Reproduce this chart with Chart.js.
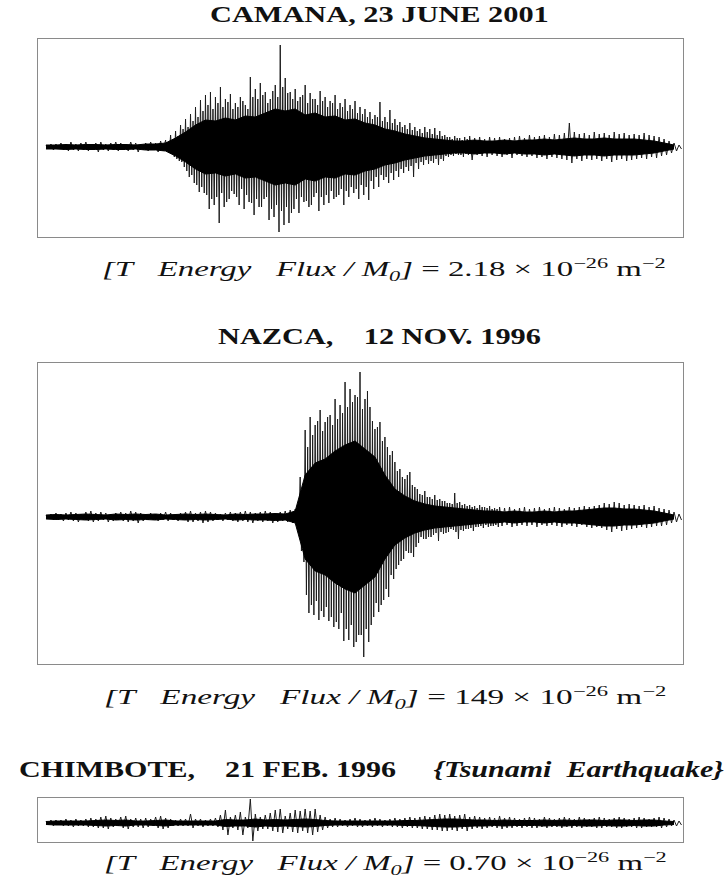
<!DOCTYPE html>
<html>
<head>
<meta charset="utf-8">
<script src="https://cdn.jsdelivr.net/npm/chart.js@4.4.1/dist/chart.umd.min.js"></script>
<style>
html, body { margin: 0; padding: 0; background: #fff; }
body { width: 726px; height: 885px; position: relative; overflow: hidden;
       font-family: "Liberation Serif", "Times New Roman", serif; color: #111; }
.panel { position: absolute; left: 37px; width: 647px; box-sizing: border-box; border: 1px solid #8a8a8a; }
.holder { position: relative; width: 100%; height: 100%; }
.txt { position: absolute; left: 0; top: 0; white-space: nowrap; line-height: 1; transform-origin: 0 0; }
.title { font-size: 23px; font-weight: bold; }
.formula { font-size: 21px; }
sup, sub { font-size: 0.68em; line-height: 0; }
sup { vertical-align: 0.55em; }
sub { vertical-align: -0.32em; }
.probe { display: inline-block; width: 0; height: 0; }
</style>
</head>
<body>

<div class="txt title" id="t1"></div>
<div class="panel" style="top:38px;height:200px"><div class="holder"><canvas id="camana"></canvas></div></div>
<div class="txt formula" id="f1"></div>

<div class="txt title" id="t2"></div>
<div class="panel" style="top:362px;height:303px"><div class="holder"><canvas id="nazca"></canvas></div></div>
<div class="txt formula" id="f2"></div>

<div class="txt title" id="t3"></div>
<div class="panel" style="top:797px;height:46px"><div class="holder"><canvas id="chimbote"></canvas></div></div>
<div class="txt formula" id="f3"></div>

<script>
// Trace peaks, one column every ~5 px (up = max, down = min)
const camanaUp = [
  2, 3, 3, 4, 3, 5, 3, 4, 5, 3,
  4, 5, 3, 4, 5, 4, 3, 5, 4, 3,
  4, 5, 4, 6, 7, 12, 16, 22, 28, 33,
  40, 47, 52, 55, 50, 60, 48, 53, 44, 50,
  42, 70, 58, 64, 55, 48, 62, 102, 69, 55,
  58, 50, 62, 54, 48, 56, 50, 46, 52, 44,
  48, 42, 46, 40, 38, 35, 32, 45, 30, 37,
  28, 25, 22, 24, 20, 18, 20, 18, 19, 16,
  12, 10, 11, 9, 10, 11, 9, 10, 8, 10,
  9, 10, 8, 9, 10, 11, 9, 12, 10, 11,
  12, 10, 13, 12, 14, 24, 15, 13, 14, 12,
  15, 13, 14, 12, 15, 13, 14, 12, 13, 12,
  14, 12, 11, 10, 8, 6, 4, 2
];
const camanaDown = [
  -2, -3, -2, -3, -4, -3, -4, -3, -4, -3,
  -5, -3, -4, -3, -4, -3, -4, -3, -5, -3,
  -4, -3, -5, -4, -6, -10, -14, -20, -30, -36,
  -45, -46, -62, -58, -76, -60, -52, -47, -58, -62,
  -55, -68, -60, -52, -73, -70, -85, -78, -76, -62,
  -66, -55, -60, -50, -64, -58, -56, -52, -48, -58,
  -50, -46, -52, -48, -53, -42, -40, -33, -36, -33,
  -30, -26, -24, -30, -22, -18, -17, -16, -18, -14,
  -10, -9, -8, -10, -8, -13, -8, -9, -10, -8,
  -9, -10, -8, -11, -8, -9, -10, -9, -11, -10,
  -12, -10, -11, -12, -13, -16, -12, -14, -12, -13,
  -12, -14, -12, -15, -13, -12, -14, -13, -12, -11,
  -12, -10, -11, -9, -8, -6, -4, -2
];
// second, smaller swing inside each column of the strong part (from column 24)
const camanaInnerStart = 24;
const camanaUp2 = [
  5, 8, 11, 18, 20, 26, 30, 36, 42, 38,
  44, 40, 45, 38, 40, 46, 38, 50, 48, 52,
  44, 56, 50, 60, 54, 48, 46, 52, 44, 48,
  42, 46, 40, 44, 38, 40, 36, 38, 34, 33,
  30, 28, 30, 26, 25, 24, 22, 20, 18, 17,
  16, 14, 15, 13, 12, 11, 10, 8, 9, 7,
  8
];
const camanaDown2 = [
  -4, -7, -12, -15, -24, -28, -38, -40, -48, -52,
  -50, -46, -55, -44, -50, -42, -48, -56, -52, -60,
  -50, -62, -58, -64, -60, -66, -52, -50, -54, -58,
  -46, -50, -48, -44, -50, -42, -44, -40, -42, -38,
  -40, -34, -30, -28, -30, -26, -24, -22, -20, -19,
  -16, -15, -13, -14, -12, -12, -9, -8, -7, -8,
  -7
];
// half thickness of the solid black core, one value every 2 columns
const camanaCore = [
  2, 2, 2.5, 2, 2.5, 2.5, 2, 2.5, 2.5, 2, 3, 3, 4, 9, 15, 22,
  27, 26, 29, 27, 31, 30, 34, 38, 36, 38, 32, 34, 30, 31, 27, 28,
  24, 22, 18, 16, 13, 11, 9, 8, 7, 6, 6, 7, 6, 6, 7, 6,
  7, 7, 8, 7, 8, 9, 8, 8, 9, 8, 8, 8, 7, 6, 4, 2
];

const nazcaUp = [
  2, 3, 4, 3, 4, 5, 4, 3, 5, 6,
  4, 5, 4, 3, 4, 5, 4, 6, 5, 4,
  3, 4, 3, 4, 5, 4, 3, 4, 5, 6,
  4, 5, 6, 5, 4, 3, 4, 5, 4, 5,
  6, 5, 4, 5, 6, 5, 4, 5, 6, 7,
  8, 40, 87, 100, 92, 107, 95, 102, 118, 112,
  135, 128, 122, 145, 118, 110, 88, 95, 80, 62,
  55, 48, 38, 45, 30, 23, 26, 20, 22, 18,
  16, 14, 24, 15, 13, 12, 11, 12, 10, 11,
  9, 10, 9, 10, 8, 9, 10, 8, 9, 10,
  8, 9, 10, 9, 8, 10, 9, 10, 11, 10,
  11, 12, 14, 13, 15, 14, 12, 13, 12, 11,
  12, 10, 11, 9, 8, 7, 5, 3
];
const nazcaDown = [
  -2, -3, -3, -4, -3, -4, -5, -3, -4, -5,
  -4, -3, -5, -4, -3, -4, -5, -4, -6, -4,
  -3, -3, -4, -3, -4, -3, -4, -3, -5, -5,
  -4, -6, -5, -4, -3, -4, -3, -4, -5, -4,
  -5, -6, -4, -5, -4, -6, -5, -4, -5, -6,
  -8, -45, -96, -98, -103, -100, -104, -110, -112, -124,
  -123, -130, -118, -140, -125, -100, -95, -83, -80, -62,
  -48, -42, -36, -40, -26, -22, -20, -18, -24, -17,
  -15, -13, -22, -14, -12, -14, -10, -11, -10, -9,
  -10, -9, -8, -10, -9, -8, -9, -8, -10, -8,
  -9, -8, -9, -10, -8, -9, -10, -8, -10, -11,
  -10, -11, -13, -15, -12, -14, -13, -12, -11, -10,
  -11, -10, -9, -9, -8, -6, -5, -3
];
const nazcaInnerStart = 50;
const nazcaUp2 = [
  6, 30, 70, 82, 96, 86, 100, 92, 98, 104,
  110, 115, 120, 108, 126, 96, 90, 76, 70, 66,
  46, 40, 42, 32, 28, 22, 20, 18, 17, 16,
  14, 13, 14, 12, 11, 10, 9, 10, 9, 8,
  8
];
const nazcaDown2 = [
  -6, -34, -78, -88, -84, -94, -90, -100, -105, -96,
  -112, -108, -125, -118, -112, -108, -86, -88, -72, -58,
  -52, -44, -34, -36, -30, -20, -22, -20, -16, -15,
  -16, -12, -15, -13, -12, -11, -10, -9, -8, -9,
  -8
];
const nazcaCore = [
  2, 2.5, 2, 2.5, 3, 2.5, 2, 3, 2.5, 3, 2.5, 3, 2, 2.5, 3, 2.5,
  3, 2.5, 2, 3, 2.5, 3, 3, 3.5, 3, 6, 42, 54, 58, 66, 72, 76,
  68, 60, 42, 28, 21, 16, 13, 11, 10, 9, 8, 7, 6, 6, 5, 6,
  5, 5, 6, 5, 6, 6, 7, 8, 9, 9, 8, 8, 7, 6, 4, 2
];

const chimboteUp = [
  2, 3, 3, 3, 4, 3, 4, 3, 4, 5,
  4, 6, 7, 5, 4, 6, 7, 4, 5, 4,
  5, 4, 6, 7, 5, 4, 3, 4, 4, 9,
  4, 4, 3, 4, 5, 8, 13, 6, 8, 11,
  6, 24, 9, 6, 8, 10, 13, 14, 7, 10,
  13, 12, 14, 12, 14, 8, 6, 4, 5, 4,
  3, 4, 5, 4, 3, 4, 5, 4, 3, 4,
  5, 4, 5, 6, 5, 6, 7, 6, 8, 9,
  8, 9, 7, 8, 9, 6, 7, 6, 5, 6,
  5, 7, 5, 6, 5, 4, 5, 6, 5, 4,
  6, 5, 4, 5, 6, 5, 4, 6, 5, 4,
  5, 6, 5, 4, 5, 6, 5, 4, 5, 6,
  5, 4, 5, 6, 5, 4, 3, 2
];
const chimboteDown = [
  -2, -3, -2, -3, -3, -4, -3, -3, -4, -4,
  -5, -5, -6, -4, -3, -5, -6, -4, -4, -5,
  -4, -3, -5, -6, -5, -3, -3, -3, -3, -5,
  -3, -4, -3, -3, -4, -7, -12, -5, -7, -12,
  -5, -18, -8, -6, -6, -8, -9, -10, -6, -9,
  -10, -8, -10, -12, -9, -7, -5, -4, -4, -3,
  -4, -3, -4, -4, -3, -4, -3, -4, -3, -4,
  -4, -5, -4, -5, -5, -6, -6, -7, -7, -8,
  -8, -7, -8, -6, -8, -6, -5, -6, -5, -4,
  -5, -6, -5, -5, -4, -5, -4, -5, -5, -4,
  -5, -4, -4, -5, -4, -5, -4, -5, -4, -4,
  -5, -5, -4, -4, -5, -5, -4, -4, -5, -5,
  -4, -4, -4, -5, -4, -3, -3, -2
];
const chimboteCore = [
  1.5, 2, 2, 2, 2, 2.5, 3, 2.5, 3, 2, 2, 2.5, 3, 2, 2, 2,
  2, 2, 3.5, 3, 3, 4, 3, 3.5, 3, 3.5, 4, 3.5, 2.5, 2, 2, 2,
  2, 2, 2, 2, 2.5, 2.5, 3, 3.5, 4, 4, 3.5, 3, 3, 2.5, 3, 2.5,
  2.5, 2.5, 3, 2.5, 3, 2.5, 3, 3, 2.5, 3, 3, 2.5, 3, 3, 2, 1.5
];

const stations = ['CAMANA, 23 JUNE 2001', 'NAZCA,\u00a0\u00a0\u00a0 12 NOV. 1996', 'CHIMBOTE,\u00a0\u00a0\u00a0 21 FEB. 1996'];
const eventNote = '{Tsunami\u00a0\u00a0Earthquake}';
const fluxValues = ['2.18', '149', '0.70'];

const CORE_STEP = 2;

// the wiggle runs through each column's peak and trough (and the inner swing where there is one)
function buildWiggle(up, down, up2, down2, start) {
    const pts = [];
    up.forEach((u, i) => {
        const k = i - start;
        pts.push({ x: i, y: u });
        if (k >= 0 && k < up2.length) {
            pts.push({ x: i + 0.25, y: down2[k] });
            pts.push({ x: i + 0.5, y: up2[k] });
            pts.push({ x: i + 0.75, y: down[i] });
        } else {
            pts.push({ x: i + 0.5, y: down[i] });
        }
    });
    return pts;
}

function drawTrace(id, wiggle, core, count, yMin, yMax) {
    const coreTop = core.map((c, j) => ({ x: j * CORE_STEP, y: c }));
    const coreBot = core.map((c, j) => ({ x: j * CORE_STEP, y: -c }));

    new Chart(document.getElementById(id), {
        type: 'line',
        data: {
            datasets: [
                { data: coreTop, borderColor: '#000', borderWidth: 1,
                  pointRadius: 0, fill: '+1', backgroundColor: '#000', order: 1 },
                { data: coreBot, borderColor: '#000', borderWidth: 1,
                  pointRadius: 0, fill: false, order: 1 },
                { data: wiggle, borderColor: '#1c1c1c', borderWidth: 1,
                  pointRadius: 0, fill: false, order: 2 }
            ]
        },
        options: {
            animation: false,
            responsive: true,
            maintainAspectRatio: false,
            layout: { padding: 0 },
            plugins: { legend: { display: false }, tooltip: { enabled: false } },
            scales: {
                x: { type: 'linear', display: false, min: -1.6, max: count - 0.2 },
                y: { display: false, min: yMin, max: yMax }
            }
        }
    });
}

function formula(v) {
    return '<i>[T&nbsp;&nbsp;&nbsp;Energy&nbsp;&nbsp;&nbsp;Flux / M<sub>0</sub>]</i> = ' + v +
        ' \u00d7 10<sup>\u221226</sup> m<sup>\u22122</sup>';
}

// place a text so it spans [left, right] with the given baseline
function place(id, html, left, right, base) {
    const el = document.getElementById(id);
    el.innerHTML = html + '<span class="probe"></span>';
    const w = el.scrollWidth;
    const probe = el.querySelector('.probe');
    el.style.left = left + 'px';
    el.style.top = (base - probe.offsetTop) + 'px';
    el.style.transform = 'scaleX(' + ((right - left) / w) + ')';
}

document.addEventListener('DOMContentLoaded', function() {
    place('t1', stations[0], 210, 549, 22);
    place('f1', formula(fluxValues[0]), 102, 665, 276);
    place('t2', stations[1], 218, 541, 344);
    place('f2', formula(fluxValues[1]), 104, 666, 704);
    place('t3', stations[2] + '\u00a0\u00a0\u00a0\u00a0 <i>' + eventNote + '</i>', 19, 724, 777);
    place('f3', formula(fluxValues[2]), 104, 666, 870);

    drawTrace('camana', buildWiggle(camanaUp, camanaDown, camanaUp2, camanaDown2, camanaInnerStart),
              camanaCore, camanaUp.length, -90, 108);
    drawTrace('nazca', buildWiggle(nazcaUp, nazcaDown, nazcaUp2, nazcaDown2, nazcaInnerStart),
              nazcaCore, nazcaUp.length, -147, 154);
    drawTrace('chimbote', buildWiggle(chimboteUp, chimboteDown, [], [], 0),
              chimboteCore, chimboteUp.length, -19, 25);
});
</script>
</body>
</html>
